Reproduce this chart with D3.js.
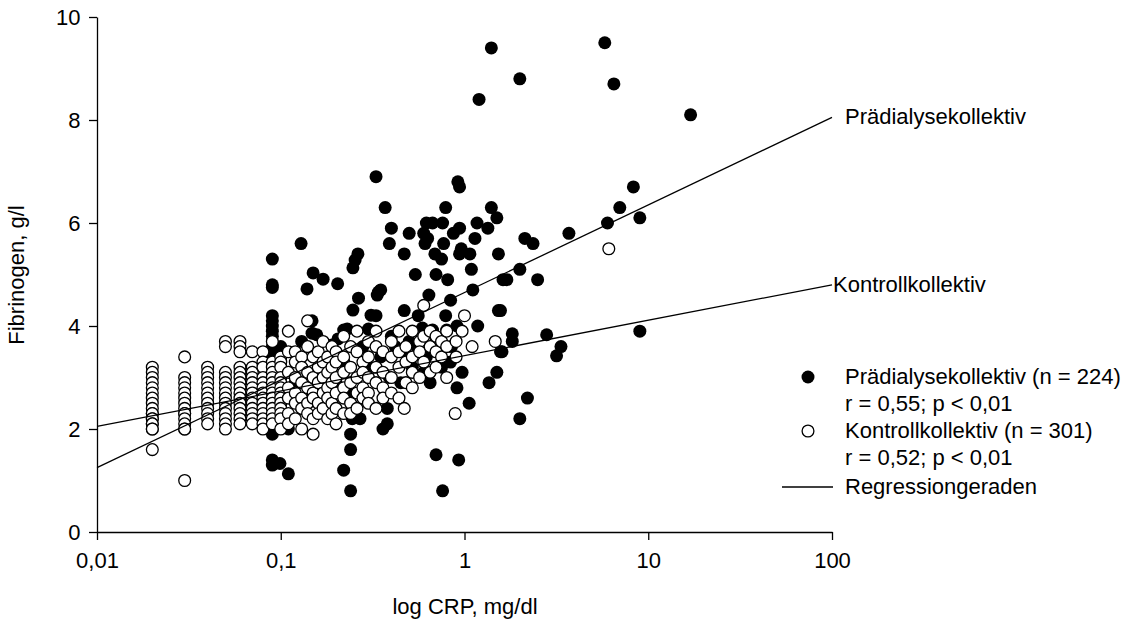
<!DOCTYPE html>
<html><head><meta charset="utf-8">
<script src="https://cdn.jsdelivr.net/npm/d3@7"></script>
<style>body{margin:0;background:#fff}svg{display:block}text{font-family:"Liberation Sans",Arial,sans-serif;fill:#000}</style>
</head><body><svg id="c" width="1136" height="626"></svg>
<script>
// Prädialysekollektiv [CRP mg/dl, Fibrinogen g/l]
const praedialyse = [
[1.4,9.4],[5.8,9.5],[2.0,8.8],[1.2,8.4],[6.5,8.7],[17,8.1],
[8.3,6.7],[9.0,6.1],[7.0,6.3],[6.0,6.0],[3.7,5.8],[2.13,5.7],[2.36,5.6],[2.0,5.1],[1.7,4.9],[2.5,4.9],[1.57,4.3],[1.82,3.85],[2.8,3.83],[1.82,3.7],[3.35,3.6],[3.17,3.42],[1.6,3.5],[1.57,3.5],[9.0,3.9],[2.2,2.6],[2.0,2.2],
[0.33,6.9],[0.92,6.8],[0.94,6.7],[0.37,6.3],[0.79,6.3],[1.4,6.3],[1.5,6.1],[0.40,5.9],[0.50,5.8],[0.62,6.0],[0.67,6.0],[0.76,6.0],[1.17,6.0],[1.34,5.9],[0.87,5.8],[0.94,5.9],[0.60,5.8],[0.63,5.7],[0.61,5.6],[0.39,5.6],[1.14,5.7],[0.77,5.6],[0.47,5.4],[0.69,5.4],[0.75,5.3],[0.96,5.5],[1.07,5.4],[0.94,5.4],[1.53,5.4],[1.09,5.1],[0.54,5.0],[0.70,5.0],[0.81,4.9],[1.62,4.9],[0.35,4.7],[1.11,4.7],[0.64,4.6],[0.84,4.5],[1.53,4.3],[0.47,4.3],[0.56,4.2],[0.79,4.2],[1.18,4.0],[0.33,4.2],[0.59,3.96],[0.67,3.92],[0.80,3.92],[0.91,4.0],
[0.97,3.1],[1.5,3.1],[1.36,2.9],[0.91,2.8],[1.06,2.5],[0.70,1.5],[0.93,1.4],[0.76,0.8],[0.38,2.1],[0.36,2.0],[0.38,2.4],[0.84,3.3],[0.50,3.4],[0.52,3.2],[0.39,3.0],
[0.129,5.6],[0.09,5.3],[0.09,4.8],[0.09,4.75],[0.263,5.4],[0.254,5.28],[0.247,5.13],[0.150,5.03],[0.17,4.91],[0.139,4.72],[0.204,4.82],[0.265,4.54],[0.247,4.31],[0.34,4.66],[0.335,4.6],[0.31,4.21],[0.09,4.2],[0.09,4.1],[0.09,4.0],[0.09,3.9],[0.09,3.8],[0.09,3.6],[0.148,3.86],[0.22,3.92],[0.148,4.1],[0.157,3.83],[0.23,3.94],[0.30,3.94],[0.19,3.63],[0.205,3.75],[0.24,1.9],[0.24,1.6],[0.22,1.2],[0.24,0.8],[0.09,1.4],[0.09,1.3],[0.099,1.33],[0.11,1.13],[0.09,1.9],[0.11,2.0],[0.245,2.2],[0.27,2.2],
[0.09,3.5],[0.09,3.4],[0.09,2.2],[0.09,2.0],[0.1,3.6],[0.12,2.9],[0.13,3.7],[0.14,2.5],[0.16,3.1],[0.18,2.5],[0.2,2.9],[0.22,3.3],[0.25,2.7],[0.28,3.6],[0.3,3.2],[0.35,3.4],[0.42,3.6],[0.45,2.9],[0.55,3.6],[0.62,3.4],[0.7,3.7],[0.75,3.2],[0.85,3.6],[0.4,3.8],[0.5,3.7],[0.6,3.1],[0.65,2.9],[0.2,3.4],[0.17,2.8],[0.13,2.4]
];
// Kontrollkollektiv [CRP mg/dl, Fibrinogen g/l]
const kontroll = [
[0.02,3.2],[0.02,3.1],[0.02,3.0],[0.02,2.9],[0.02,2.8],[0.02,2.7],[0.02,2.6],[0.02,2.5],[0.02,2.4],[0.02,2.3],[0.02,2.3],[0.02,2.2],[0.02,2.2],[0.02,2.1],[0.02,2.1],[0.02,2.0],[0.02,2.0],[0.02,1.6],
[0.03,3.4],[0.03,3.0],[0.03,2.9],[0.03,2.8],[0.03,2.7],[0.03,2.6],[0.03,2.5],[0.03,2.4],[0.03,2.3],[0.03,2.3],[0.03,2.2],[0.03,2.1],[0.03,2.0],[0.03,2.0],[0.03,1.0],
[0.04,3.2],[0.04,3.1],[0.04,3.0],[0.04,2.9],[0.04,2.8],[0.04,2.7],[0.04,2.6],[0.04,2.5],[0.04,2.4],[0.04,2.3],[0.04,2.2],[0.04,2.1],
[0.05,3.7],[0.05,3.6],[0.05,3.1],[0.05,3.0],[0.05,2.9],[0.05,2.8],[0.05,2.7],[0.05,2.6],[0.05,2.5],[0.05,2.4],[0.05,2.3],[0.05,2.2],[0.05,2.1],[0.05,2.0],
[0.06,3.7],[0.06,3.6],[0.06,3.5],[0.06,3.2],[0.06,3.1],[0.06,3.0],[0.06,2.9],[0.06,2.8],[0.06,2.7],[0.06,2.6],[0.06,2.5],[0.06,2.4],[0.06,2.3],[0.06,2.2],[0.06,2.1],
[0.07,3.5],[0.07,3.2],[0.07,3.1],[0.07,3.0],[0.07,2.9],[0.07,2.8],[0.07,2.7],[0.07,2.6],[0.07,2.5],[0.07,2.4],[0.07,2.3],[0.07,2.2],[0.07,2.1],
[0.08,3.5],[0.08,3.3],[0.08,3.2],[0.08,3.0],[0.08,2.9],[0.08,2.8],[0.08,2.7],[0.08,2.6],[0.08,2.5],[0.08,2.4],[0.08,2.3],[0.08,2.2],[0.08,2.1],[0.08,2.0],
[0.09,3.7],[0.09,3.3],[0.09,3.2],[0.09,3.1],[0.09,3.0],[0.09,2.9],[0.09,2.8],[0.09,2.7],[0.09,2.6],[0.09,2.5],[0.09,2.4],[0.09,2.3],[0.09,2.2],[0.09,2.1],
[0.1,3.4],[0.1,3.3],[0.1,3.2],[0.1,3.0],[0.1,2.9],[0.1,2.8],[0.1,2.7],[0.1,2.6],[0.1,2.5],[0.1,2.4],[0.1,2.3],[0.1,2.2],[0.1,2.0],
[0.11,3.9],[0.11,3.5],[0.11,3.1],[0.11,2.8],[0.11,2.6],[0.11,2.3],[0.11,2.1],
[0.12,3.5],[0.12,3.3],[0.12,3.0],[0.12,2.7],[0.12,2.5],[0.12,2.2],
[0.13,3.4],[0.13,3.2],[0.13,2.9],[0.13,2.6],[0.13,2.4],[0.13,2.0],
[0.14,4.1],[0.14,3.6],[0.14,3.1],[0.14,2.8],[0.14,2.5],[0.14,2.3],
[0.15,3.4],[0.15,3.0],[0.15,2.7],[0.15,2.6],[0.15,2.2],[0.15,1.9],
[0.16,3.5],[0.16,3.2],[0.16,2.9],[0.16,2.5],[0.16,2.3],
[0.17,3.7],[0.17,3.3],[0.17,3.0],[0.17,2.7],[0.17,2.4],
[0.18,3.4],[0.18,3.1],[0.18,2.8],[0.18,2.6],[0.18,2.2],
[0.19,3.6],[0.19,3.2],[0.19,2.9],[0.19,2.5],[0.19,2.3],
[0.2,3.5],[0.2,3.3],[0.2,3.0],[0.2,2.7],[0.2,2.4],[0.2,2.1],
[0.22,3.8],[0.22,3.4],[0.22,3.1],[0.22,2.8],[0.22,2.6],[0.22,2.3],
[0.24,3.6],[0.24,3.2],[0.24,2.9],[0.24,2.5],[0.24,2.3],
[0.26,3.9],[0.26,3.5],[0.26,3.0],[0.26,2.7],[0.26,2.4],
[0.28,3.3],[0.28,3.1],[0.28,2.8],[0.28,2.6],
[0.3,3.7],[0.3,3.4],[0.3,3.0],[0.3,2.7],[0.3,2.5],
[0.33,3.9],[0.33,3.6],[0.33,3.2],[0.33,2.9],[0.33,2.4],
[0.36,3.5],[0.36,3.1],[0.36,2.8],[0.36,2.6],
[0.4,3.7],[0.4,3.4],[0.4,3.0],[0.4,2.7],
[0.44,3.9],[0.44,3.5],[0.44,3.2],[0.44,2.6],
[0.48,3.6],[0.48,3.3],[0.48,2.9],[0.47,2.4],
[0.52,3.9],[0.52,3.4],[0.52,3.1],[0.52,2.8],
[0.57,3.7],[0.57,3.5],[0.57,3.0],
[0.6,4.4],[0.6,3.8],[0.6,3.3],
[0.65,3.9],[0.65,3.6],[0.65,3.1],
[0.7,3.8],[0.7,3.5],[0.7,3.2],
[0.75,3.7],[0.75,3.4],
[0.8,3.9],[0.8,3.6],[0.8,3.0],
[0.9,3.7],[0.9,3.4],[0.89,2.3],
[1.0,4.2],[0.97,3.9],[1.1,3.6],[1.47,3.7],[6.1,5.5]
];
const xTicks = [0.01, 0.1, 1, 10, 100];
const xTickLabels = ["0,01", "0,1", "1", "10", "100"];
const yTicks = [0, 2, 4, 6, 8, 10];
// Regressionsgeraden: Fibrinogen an den Enden der x-Achse (CRP 0,01 und 100)
const regPraedialyse = [[0.01, 1.25], [100, 8.05]];
const regKontroll = [[0.01, 2.05], [100, 4.8]];
const legendLabels = ["Prädialysekollektiv (n = 224)", "r = 0,55; p < 0,01", "Kontrollkollektiv (n = 301)", "r = 0,52; p < 0,01", "Regressiongeraden"];

const svg = d3.select("#c");
const x = d3.scaleLog().domain([0.01, 100]).range([97, 832]);
const y = d3.scaleLinear().domain([0, 10]).range([532, 17]);
const FS = 22;

// axes
const xAxis = svg.append("g").attr("transform", "translate(0,532)")
  .call(d3.axisBottom(x).tickValues(xTicks).tickFormat((d, i) => xTickLabels[i]).tickSize(8).tickSizeOuter(0));
const yAxis = svg.append("g").attr("transform", "translate(97,0)")
  .call(d3.axisLeft(y).tickValues(yTicks).tickSize(8).tickSizeOuter(0));
[xAxis, yAxis].forEach(g => {
  g.select(".domain").attr("stroke", "#000").attr("stroke-width", 1.3);
  g.selectAll(".tick line").attr("stroke", "#000").attr("stroke-width", 1.3);
  g.selectAll(".tick text").attr("font-size", FS).attr("font-family", "Liberation Sans, Arial, sans-serif").attr("fill", "#000");
});
xAxis.selectAll(".tick text").attr("dy", "1.12em");
yAxis.selectAll(".tick text").attr("dx", "-0.25em");

// points
const R = 6.5;
svg.append("g").selectAll("circle").data(praedialyse).join("circle")
  .attr("cx", d => x(d[0])).attr("cy", d => y(d[1])).attr("r", R).attr("fill", "#000");
svg.append("g").selectAll("circle").data(kontroll).join("circle")
  .attr("cx", d => x(d[0])).attr("cy", d => y(d[1])).attr("r", R - 0.6)
  .attr("fill", "#fff").attr("stroke", "#000").attr("stroke-width", 1.3);

// regression lines
const line = d3.line().x(d => x(d[0])).y(d => y(d[1]));
[regPraedialyse, regKontroll].forEach(r => svg.append("path").attr("d", line(r)).attr("fill", "none").attr("stroke", "#000").attr("stroke-width", 1.3));
svg.append("text").attr("x", 845).attr("y", y(regPraedialyse[1][1]) + 7).attr("font-size", FS).text("Prädialysekollektiv");
svg.append("text").attr("x", 833).attr("y", y(regKontroll[1][1]) + 7).attr("font-size", FS).text("Kontrollkollektiv");

// axis titles
svg.append("text").attr("x", 465).attr("y", 614).attr("text-anchor", "middle").attr("font-size", FS).text("log CRP, mg/dl");
svg.append("text").attr("transform", "translate(24,275) rotate(-90)").attr("text-anchor", "middle").attr("font-size", FS).text("Fibrinogen, g/l");

// legend
const lg = svg.append("g");
lg.append("circle").attr("cx", 808).attr("cy", 377).attr("r", R).attr("fill", "#000");
lg.append("circle").attr("cx", 808).attr("cy", 431).attr("r", R - 0.6).attr("fill", "#fff").attr("stroke", "#000").attr("stroke-width", 1.3);
lg.append("line").attr("x1", 782).attr("x2", 833).attr("y1", 487).attr("y2", 487).attr("stroke", "#000").attr("stroke-width", 1.3);
const ly = [377, 404, 431, 458, 487];
legendLabels.forEach((t, i) => lg.append("text").attr("x", 845).attr("y", ly[i] + 7).attr("font-size", FS).text(t));
</script></body></html>
